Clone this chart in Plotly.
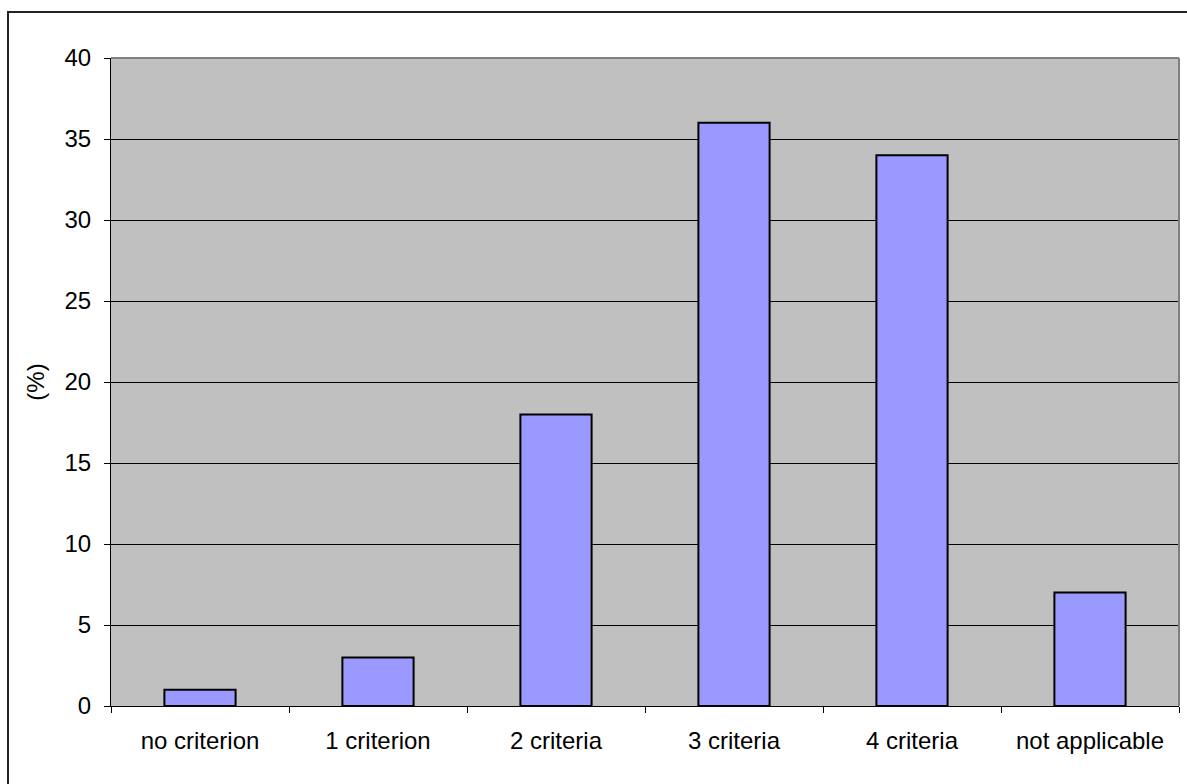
import plotly.graph_objects as go

# Share of cases meeting each number of criteria
categories = ["no criterion", "1 criterion", "2 criteria", "3 criteria", "4 criteria", "not applicable"]
percent = [1, 3, 18, 36, 34, 7]
y_ticks = [0, 5, 10, 15, 20, 25, 30, 35, 40]

W, H = 1187, 784
L, R, T, B = 111, 8, 58, 78
pw, ph = W - L - R, H - T - B

fig = go.Figure(
    go.Bar(
        x=categories,
        y=percent,
        width=0.4,
        marker=dict(color="#9999FF", line=dict(color="#000000", width=2)),
    )
)

font = dict(family="Liberation Sans, Arial, sans-serif", size=24, color="#000000")

fig.update_layout(
    width=W,
    height=H,
    margin=dict(l=L, r=R, t=T, b=B, pad=0),
    paper_bgcolor="#FFFFFF",
    plot_bgcolor="#C0C0C0",
    font=font,
    showlegend=False,
    bargap=0.6,
    xaxis=dict(
        range=[-0.5, 5.5],
        showline=True,
        linecolor="#000000",
        linewidth=1,
        ticks="outside",
        ticklen=6,
        tickcolor="#000000",
        tickson="boundaries",
        showgrid=False,
        tickfont=dict(size=24),
        ticklabelstandoff=13,
    ),
    yaxis=dict(
        range=[0, 40],
        tickvals=y_ticks,
        showline=True,
        linecolor="#000000",
        linewidth=1,
        ticks="outside",
        ticklen=6,
        tickcolor="#000000",
        showgrid=True,
        gridcolor="#000000",
        gridwidth=1,
        zeroline=False,
        tickfont=dict(size=24),
        ticklabelstandoff=8,
        title=dict(text="(%)", font=dict(size=24), standoff=13),
    ),
    shapes=[
        # plot area frame, top and right edges
        dict(type="line", xref="paper", yref="paper", x0=0, x1=1, y0=1, y1=1,
             line=dict(color="#808080", width=2), layer="above"),
        dict(type="line", xref="paper", yref="paper", x0=1, x1=1, y0=0, y1=1,
             line=dict(color="#808080", width=2), layer="above"),
        # chart border
        dict(type="rect", xref="paper", yref="paper",
             x0=(8 - L) / pw, x1=(W + 10 - L) / pw,
             y0=-(H + 10 - T - ph) / ph, y1=1 + (T - 12) / ph,
             line=dict(color="#222222", width=2), layer="above"),
    ],
)

fig.write_html("out.html")
